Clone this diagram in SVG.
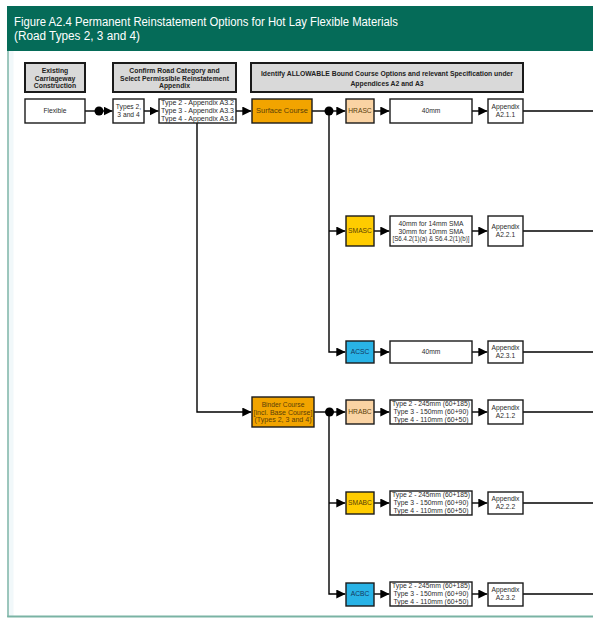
<svg xmlns="http://www.w3.org/2000/svg" width="593" height="627" viewBox="0 0 593 627">
<defs>
<marker id="ah" markerUnits="userSpaceOnUse" markerWidth="9" markerHeight="9" viewBox="0 0 9 9" refX="9" refY="4.5" orient="auto"><path d="M0,0 L9,4.5 L0,9Z" fill="#000"/></marker>
<style>
text{font-family:"Liberation Sans",Arial,sans-serif;text-anchor:middle}
.t{font-size:6.7px;fill:#2a2a2a}
.h{font-size:6.8px;font-weight:bold;fill:#222}
.gb{fill:#d9d9d9;stroke:#1a1a1a;stroke-width:2}
.nb{fill:#fff;stroke:#1a1a1a;stroke-width:1.4}
.or{fill:#f2a400;stroke:#1a1a1a;stroke-width:1.4}
.ye{fill:#ffcc00;stroke:#1a1a1a;stroke-width:1.4}
.bl{fill:#29b3e6;stroke:#1a1a1a;stroke-width:1.4}
.pe{fill:#fad3a3;stroke:#1a1a1a;stroke-width:1.4}
.t.tb{fill:#5a3f08}
.t.tu{fill:#14375e}
.c{fill:none;stroke:#000;stroke-width:1.4}
.a{fill:none;stroke:#000;stroke-width:1.4;marker-end:url(#ah)}
</style>
</defs>
<rect x="0" y="0" width="593" height="627" fill="#fff"/>
<g id="panel">
<rect x="8.5" y="51" width="5" height="565" fill="#f1f8fa"/>
<line x1="8" y1="51" x2="8" y2="617" stroke="#7db5a7" stroke-width="1.5"/>
<line x1="7.2" y1="616.5" x2="593" y2="616.5" stroke="#7ab3a4" stroke-width="2"/>
<rect x="7" y="6" width="586" height="45" fill="#056b58"/>
<text x="14" y="26" style="text-anchor:start;font-size:12px;fill:#fff" textLength="384" lengthAdjust="spacingAndGlyphs">Figure A2.4 Permanent Reinstatement Options for Hot Lay Flexible Materials</text>
<text x="14" y="40" style="text-anchor:start;font-size:12px;fill:#fff" textLength="126" lengthAdjust="spacingAndGlyphs">(Road Types 2, 3 and 4)</text>
</g>
<g id="h1"><rect class="gb" x="25" y="63" width="60" height="29"/><text class="h" x="55" y="72.8">Existing</text><text class="h" x="55" y="80.6">Carriageway</text><text class="h" x="55" y="88.4">Construction</text></g>
<g id="h2"><rect class="gb" x="113" y="63" width="123" height="29"/><text class="h" x="174.5" y="72.8">Confirm Road Category and</text><text class="h" x="174.5" y="80.6">Select Permissible Reinstatement</text><text class="h" x="174.5" y="88.4">Appendix</text></g>
<g id="h3"><rect class="gb" x="251" y="63" width="272" height="29"/><text class="h" x="387" y="76">Identify ALLOWABLE Bound Course Options and relevant Specification under</text><text class="h" x="387" y="85.5">Appendices A2 and A3</text></g>

<g id="connectors">
<line class="c" x1="85" y1="111" x2="96" y2="111"/>
<circle cx="99" cy="111" r="4.5" fill="#000"/>
<line class="a" x1="103" y1="111" x2="112.5" y2="111"/>
<line class="a" x1="144" y1="111" x2="158.5" y2="111"/>
<line class="a" x1="236" y1="111" x2="251.3" y2="111"/>
<line class="c" x1="312" y1="111" x2="329" y2="111"/>
<circle cx="329" cy="111" r="4.5" fill="#000"/>
<line class="a" x1="329" y1="111" x2="345.3" y2="111"/>
<line class="a" x1="374" y1="111" x2="389.3" y2="111"/>
<line class="a" x1="472" y1="111" x2="487.3" y2="111"/>
<line class="c" x1="523" y1="111" x2="593" y2="111"/>
<polyline class="a" points="329,111 329,352 345.3,352"/>
<line class="a" x1="329" y1="231" x2="345.3" y2="231"/>
<line class="a" x1="374" y1="231" x2="389.3" y2="231"/>
<line class="a" x1="472" y1="231" x2="487.3" y2="231"/>
<line class="c" x1="523" y1="231" x2="593" y2="231"/>
<line class="a" x1="374" y1="352" x2="389.3" y2="352"/>
<line class="a" x1="472" y1="352" x2="487.3" y2="352"/>
<line class="c" x1="523" y1="352" x2="593" y2="352"/>
<polyline class="a" points="197,123 197,412 251.3,412"/>
<line class="c" x1="314" y1="412" x2="329" y2="412"/>
<circle cx="329.5" cy="412" r="4.5" fill="#000"/>
<line class="a" x1="329" y1="412" x2="345.3" y2="412"/>
<line class="a" x1="374" y1="412" x2="389.3" y2="412"/>
<line class="a" x1="472" y1="412" x2="487.3" y2="412"/>
<line class="c" x1="523" y1="412" x2="593" y2="412"/>
<polyline class="a" points="329,412 329,594 345.3,594"/>
<line class="a" x1="329" y1="503" x2="345.3" y2="503"/>
<line class="a" x1="374" y1="503" x2="389.3" y2="503"/>
<line class="a" x1="472" y1="503" x2="487.3" y2="503"/>
<line class="c" x1="523" y1="503" x2="593" y2="503"/>
<line class="a" x1="374" y1="594" x2="389.3" y2="594"/>
<line class="a" x1="472" y1="594" x2="487.3" y2="594"/>
<line class="c" x1="523" y1="594" x2="593" y2="594"/>
</g>

<g id="flexible"><rect class="nb" x="25" y="99" width="60" height="24"/><text class="t" x="55" y="113.4">Flexible</text></g>
<g id="types"><rect class="nb" x="113" y="99" width="31" height="24"/><text class="t" x="128.5" y="109.3">Types 2,</text><text class="t" x="128.5" y="117.2">3 and 4</text></g>
<g id="appx-a3"><rect class="nb" x="159" y="99" width="77" height="24"/><text class="t" x="197.5" y="105.1" textLength="73" lengthAdjust="spacingAndGlyphs">Type 2 - Appendix A3.2</text><text class="t" x="197.5" y="113" textLength="73" lengthAdjust="spacingAndGlyphs">Type 3 - Appendix A3.3</text><text class="t" x="197.5" y="120.9" textLength="73" lengthAdjust="spacingAndGlyphs">Type 4 - Appendix A3.4</text></g>
<g id="surface"><rect class="or" x="252" y="99" width="60" height="24"/><text class="t tb" x="282" y="113.4" textLength="52" lengthAdjust="spacingAndGlyphs">Surface Course</text></g>

<g id="hrasc"><rect class="pe" x="346" y="99" width="28" height="24"/><text class="t tb" x="360" y="113.4">HRASC</text></g>
<g id="hrasc-spec"><rect class="nb" x="390" y="99" width="82" height="24"/><text class="t" x="431" y="113.4">40mm</text></g>
<g id="a211"><rect class="nb" x="488" y="99" width="35" height="24"/><text class="t" x="505.5" y="109.3">Appendix</text><text class="t" x="505.5" y="117.2">A2.1.1</text></g>

<g id="smasc"><rect class="ye" x="346" y="216" width="28" height="30"/><text class="t tb" x="360" y="233.4">SMASC</text></g>
<g id="smasc-spec"><rect class="nb" x="390" y="216" width="82" height="30"/><text class="t" x="431" y="225.8">40mm for 14mm SMA</text><text class="t" x="431" y="233.6">30mm for 10mm SMA</text><text class="t" x="431" y="241.4" textLength="77" lengthAdjust="spacingAndGlyphs">[S6.4.2(1)(a) &amp; S6.4.2(1)(b)]</text></g>
<g id="a221"><rect class="nb" x="488" y="216" width="35" height="30"/><text class="t" x="505.5" y="229.3">Appendix</text><text class="t" x="505.5" y="237.2">A2.2.1</text></g>

<g id="acsc"><rect class="bl" x="346" y="341" width="28" height="22"/><text class="t tu" x="360" y="354.4">ACSC</text></g>
<g id="acsc-spec"><rect class="nb" x="390" y="341" width="82" height="22"/><text class="t" x="431" y="354.4">40mm</text></g>
<g id="a231"><rect class="nb" x="488" y="341" width="35" height="22"/><text class="t" x="505.5" y="350.3">Appendix</text><text class="t" x="505.5" y="358.2">A2.3.1</text></g>

<g id="binder"><rect class="or" x="252" y="397" width="62" height="30"/><text class="t tb" x="283" y="406.8">Binder Course</text><text class="t tb" x="283" y="414.6" textLength="59" lengthAdjust="spacingAndGlyphs">[incl. Base Course]</text><text class="t tb" x="283" y="422.4" textLength="57" lengthAdjust="spacingAndGlyphs">(Types 2, 3 and 4)</text></g>

<g id="hrabc"><rect class="pe" x="346" y="400" width="28" height="24"/><text class="t tb" x="360" y="414.4">HRABC</text></g>
<g id="hrabc-spec"><rect class="nb" x="390" y="400" width="82" height="24"/><text class="t" x="431" y="406.1" textLength="78" lengthAdjust="spacingAndGlyphs">Type 2 - 245mm (60+185)</text><text class="t" x="431" y="414" textLength="75" lengthAdjust="spacingAndGlyphs">Type 3 - 150mm (60+90)</text><text class="t" x="431" y="421.9" textLength="75" lengthAdjust="spacingAndGlyphs">Type 4 - 110mm (60+50)</text></g>
<g id="a212"><rect class="nb" x="488" y="400" width="35" height="24"/><text class="t" x="505.5" y="410.3">Appendix</text><text class="t" x="505.5" y="418.2">A2.1.2</text></g>

<g id="smabc"><rect class="ye" x="346" y="492" width="28" height="22"/><text class="t tb" x="360" y="505.4">SMABC</text></g>
<g id="smabc-spec"><rect class="nb" x="390" y="491" width="82" height="24"/><text class="t" x="431" y="497.1" textLength="78" lengthAdjust="spacingAndGlyphs">Type 2 - 245mm (60+185)</text><text class="t" x="431" y="505" textLength="75" lengthAdjust="spacingAndGlyphs">Type 3 - 150mm (60+90)</text><text class="t" x="431" y="512.9" textLength="75" lengthAdjust="spacingAndGlyphs">Type 4 - 110mm (60+50)</text></g>
<g id="a222"><rect class="nb" x="488" y="492" width="35" height="22"/><text class="t" x="505.5" y="501.3">Appendix</text><text class="t" x="505.5" y="509.2">A2.2.2</text></g>

<g id="acbc"><rect class="bl" x="346" y="583" width="28" height="23"/><text class="t tu" x="360" y="596.4">ACBC</text></g>
<g id="acbc-spec"><rect class="nb" x="390" y="582" width="82" height="24"/><text class="t" x="431" y="588.1" textLength="78" lengthAdjust="spacingAndGlyphs">Type 2 - 245mm (60+185)</text><text class="t" x="431" y="596" textLength="75" lengthAdjust="spacingAndGlyphs">Type 3 - 150mm (60+90)</text><text class="t" x="431" y="603.9" textLength="75" lengthAdjust="spacingAndGlyphs">Type 4 - 110mm (60+50)</text></g>
<g id="a232"><rect class="nb" x="488" y="583" width="35" height="23"/><text class="t" x="505.5" y="592.3">Appendix</text><text class="t" x="505.5" y="600.2">A2.3.2</text></g>
</svg>
